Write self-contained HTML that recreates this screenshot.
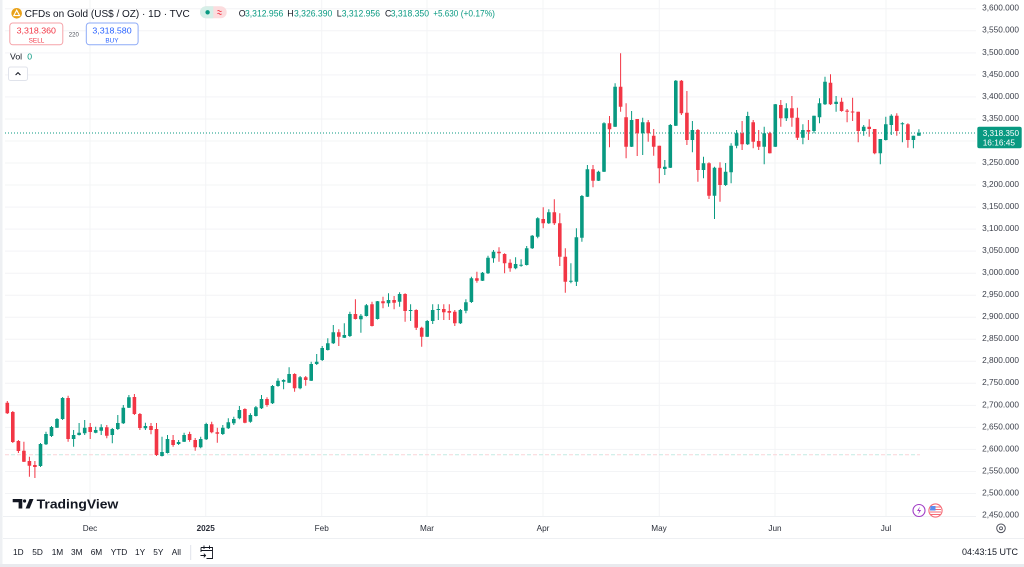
<!DOCTYPE html>
<html><head><meta charset="utf-8"><style>
html,body{margin:0;padding:0;background:#fff;width:1024px;height:567px;overflow:hidden}
svg{display:block}
text{font-family:"Liberation Sans",sans-serif}
</style></head><body>
<svg width="1024" height="567" viewBox="0 0 1024 567" xmlns="http://www.w3.org/2000/svg">
<rect x="0" y="0" width="1024" height="567" fill="#ffffff"/>
<!-- frame -->
<rect x="0" y="0" width="2.5" height="567" fill="#eef0f3"/>
<rect x="0" y="564" width="1024" height="3" fill="#e9eaee"/>
<!-- grid -->
<path d="M5 8.8H976M5 30.8H976M5 52.9H976M5 74.9H976M5 96.9H976M5 119H976M5 141H976M5 163H976M5 185H976M5 207.1H976M5 229.1H976M5 251.1H976M5 273.2H976M5 295.2H976M5 317.2H976M5 339.3H976M5 361.3H976M5 383.3H976M5 405.4H976M5 427.4H976M5 449.4H976M5 471.5H976M5 493.5H976" stroke="#f3f4f6" stroke-width="1" fill="none"/>
<path d="M90 0V516M205.7 0V516M321.7 0V516M427 0V516M543 0V516M659.3 0V516M775 0V516M886 0V516" stroke="#f3f4f6" stroke-width="1" fill="none"/>
<path d="M3 516.5H976M3 538.5H1024" stroke="#eef0f3" stroke-width="1" fill="none"/>
<!-- dashed low line -->
<path d="M5 454.7H920" stroke="#fbd3d7" stroke-width="1" stroke-dasharray="4 8" fill="none"/>
<path d="M11 454.7H920" stroke="#c4ebe3" stroke-width="1" stroke-dasharray="4 8" fill="none"/>
<!-- current price line -->
<path d="M5 133H977" stroke="#089981" stroke-width="1" stroke-dasharray="1 2" fill="none"/>

<!-- candles -->
<path fill="none" stroke="#089981" stroke-width="1" d="M40.5 443V467 M46 431.7V445 M51.5 426V437 M57 418V428 M62.6 397V420 M73.6 430V446.7 M79.1 423V435.5 M84.7 420V435 M95.7 426.7V433.3 M101.2 424.3V435 M112.3 428V443.3 M117.8 415V430 M123.3 405V424 M128.9 395V408 M145.4 422.7V430 M162 436.7V456.5 M167.5 435V453.5 M178.6 440V445 M184.1 432.7V442 M200.7 436.7V448.3 M206.2 422.7V440 M222.8 425V435 M228.3 418.3V429 M233.8 416.7V425 M239.4 406V419.3 M250.4 413.3V422.7 M255.9 406V416.5 M261.5 395V409 M272.5 385V404 M278 378.3V386.7 M283.6 379.3V389.3 M289.1 367.3V383 M300.1 376V389.3 M311.2 361.7V381 M316.7 354V365 M322.2 346V361 M327.8 338.3V350.5 M333.3 325V344 M344.3 323.3V338 M349.9 311.7V337 M360.9 314V332.7 M366.4 304V316.5 M377.5 301V319.5 M388.5 293.3V306.7 M399.6 292.3V306.7 M410.6 304.3V321 M427.2 320V337 M432.7 304.3V324 M438.3 304.3V320 M460.4 309V324 M465.9 299.3V313.3 M471.4 276.7V303 M482.5 272V281 M488 255.7V274 M493.5 250V262.7 M515.6 257.3V269.3 M521.1 259.3V266.7 M526.7 246V265.5 M532.2 235V249 M537.7 217.3V238.3 M548.8 209.3V224 M570.9 263.3V283.3 M576.4 228.3V286 M581.9 195V241.7 M587.4 165V197 M598.5 170.7V181 M604 122.3V172 M615.1 83.3V127 M631.6 111V147 M642.7 117.7V155 M664.8 160V175 M670.3 124V168 M675.8 80V126 M692.4 121V152.3 M703.5 156.7V178.3 M714.5 166.7V219 M725.6 163V186 M731.1 143.3V183.3 M736.6 130V148.3 M747.7 111.7V145 M764.2 126.7V164.3 M775.3 104V147 M786.3 103.3V121 M802.9 124.3V144.3 M814 115.7V133.3 M819.5 98.3V123.3 M825 76.7V105 M836.1 96V111.7 M863.7 125V135.7 M880.3 139V164.3 M885.8 116.7V140.5 M891.3 114.3V135 M902.4 122.3V142.3 M913.4 135.7V148.3 M918.9 129.3V135.7"/>
<path fill="none" stroke="#089981" stroke-width="3.6" d="M40.5 444V466 M46 434V444.3 M51.5 427V436 M57 419V427.7 M62.6 398V419 M73.6 435V439 M79.1 432.7V435 M84.7 427.7V433.3 M95.7 430V432.7 M101.2 427.3V430.7 M112.3 429V435 M117.8 423V429 M123.3 407.7V423.3 M128.9 397.3V407.7 M145.4 426V428.3 M162 452V456 M167.5 439V453 M178.6 442V444 M184.1 435V441.7 M200.7 439V447.3 M206.2 424V439.3 M222.8 427.7V434 M228.3 422.3V428.3 M233.8 419V423.3 M239.4 410V418.3 M250.4 415V421.7 M255.9 407.3V416 M261.5 399V408.3 M272.5 386V403.3 M278 380.7V386 M283.6 380V381.7 M289.1 374V382.7 M300.1 377.3V388.3 M311.2 364V380.7 M316.7 361.7V364 M322.2 348V360 M327.8 343.3V350 M333.3 332.3V343.3 M344.3 335V337.7 M349.9 314V336 M360.9 315.7V319.3 M366.4 305.3V316 M377.5 301.3V319 M388.5 300V303.3 M399.6 294V301.7 M410.6 310V311 M427.2 321V336.7 M432.7 310V321 M438.3 309V310 M460.4 310V323.3 M465.9 302.3V310.7 M471.4 278.3V302 M482.5 272.7V280.7 M488 257.7V273.3 M493.5 251.7V258.3 M515.6 264V268.3 M521.1 264.7V265.7 M526.7 248.3V265 M532.2 235.7V248.3 M537.7 218.3V236.7 M548.8 212.3V223.3 M570.9 280.7V281.7 M576.4 237.3V281.7 M581.9 196V237.7 M587.4 169.3V196.7 M598.5 171.7V180.7 M604 123.3V171.7 M615.1 86.7V126.7 M631.6 120V146.7 M642.7 122.3V133.3 M664.8 166.7V169 M670.3 125V167.7 M675.8 80.7V125.7 M692.4 130V140 M703.5 163.3V170 M714.5 167.7V195.7 M725.6 171.7V185 M731.1 145.7V172.3 M736.6 133.3V145.7 M747.7 116V144.3 M764.2 133.3V146.7 M775.3 104.3V146.7 M786.3 108.3V118.3 M802.9 130V137.7 M814 115.7V131 M819.5 103.3V117.3 M825 81.7V104.3 M836.1 101.7V104 M863.7 126.7V131 M880.3 139V153.3 M885.8 124.3V140 M891.3 115.7V125 M902.4 123.3V124.3 M913.4 135.7V140 M918.9 132.7V135.7"/>
<path fill="none" stroke="#f23645" stroke-width="1" d="M7.3 401V414 M12.8 411V443 M18.4 440V453 M23.9 441.7V462 M29.4 456.7V476.7 M34.9 461V478 M68.1 395.7V441.7 M90.2 423V439 M106.8 425V438.3 M134.4 394V415 M139.9 413V430 M151 423V434.3 M156.5 423V456 M173.1 435V446.7 M189.6 431.7V441.7 M195.2 438V450.7 M211.7 421.7V433.3 M217.3 427.7V442.7 M244.9 408.3V423.3 M267 397.3V406.7 M294.6 373.3V391.7 M305.7 376V385.7 M338.8 329.3V346 M355.4 299.3V319.5 M372 301.7V326.5 M383 296.7V308.3 M394.1 296V309.3 M405.1 293.3V321.7 M416.2 309.3V330 M421.7 326.7V346.7 M443.8 304.3V320 M449.3 304.3V320 M454.8 310V326 M476.9 271.7V282.7 M499 247.3V261.7 M504.6 253.3V273.3 M510.1 259.3V271.7 M543.2 207.3V228.3 M554.3 199.3V225 M559.8 213.3V266 M565.3 248.3V292.7 M593 165V187.3 M609.5 116V147.3 M620.6 53.3V111.7 M626.1 103.3V158.3 M637.2 119V156 M648.2 120V141.7 M653.7 129V155.7 M659.3 145.7V183.3 M681.4 80V115 M686.9 91V145 M697.9 129V181.7 M709 162.3V199 M720 162.3V201.7 M742.1 121V150 M753.2 120V148.3 M758.7 130V150 M769.8 131.7V153.5 M780.8 100V126.7 M791.9 96V126.7 M797.4 107.7V140 M808.4 120V140 M830.5 74.3V105 M841.6 97.7V111.7 M847.1 109V122.3 M852.6 97.7V121 M858.2 111.7V142.3 M869.2 119.3V136.7 M874.7 129V154.3 M896.8 113.3V135.7 M907.9 123.3V147.7"/>
<path fill="none" stroke="#f23645" stroke-width="3.6" d="M7.3 402.7V413.3 M12.8 412V442 M18.4 441V451 M23.9 450.7V461.7 M29.4 461V465.7 M34.9 465V467 M68.1 398V439 M90.2 427V432 M106.8 427.3V435.7 M134.4 397V414 M139.9 414V428 M151 426V430 M156.5 429V455 M173.1 440V445 M189.6 434V440 M195.2 440V447.3 M211.7 424.3V432.3 M217.3 432.3V433.7 M244.9 409V422.7 M267 399V405 M294.6 374V388.3 M305.7 377.3V380 M338.8 332.3V336.7 M355.4 314V319 M372 304.3V326 M383 301.3V303.3 M394.1 300V302.7 M405.1 294V311 M416.2 310V327.7 M421.7 327.7V336.7 M443.8 309V312.3 M449.3 311V312.7 M454.8 311.7V323.3 M476.9 278.3V280.7 M499 251.7V253.3 M504.6 254V263.3 M510.1 262.7V268.3 M543.2 219V223.3 M554.3 212.3V223.3 M559.8 223.3V256.7 M565.3 256.7V281.7 M593 169.3V180.7 M609.5 123.3V129.3 M620.6 86.7V106.7 M626.1 117.3V146.7 M637.2 119V133.3 M648.2 122.3V133.3 M653.7 135.7V146.7 M659.3 145.7V168.3 M681.4 80.7V113.3 M686.9 112.7V140 M697.9 130V170 M709 163.3V195.7 M720 167.7V185 M742.1 133.3V144.3 M753.2 122.3V141.7 M758.7 141V146.7 M769.8 133.3V153.3 M780.8 105V118.3 M791.9 108.3V117.7 M797.4 117.7V137.7 M808.4 130V131.7 M830.5 82.7V104.3 M841.6 101.7V111 M847.1 110.6V111.7 M852.6 111.5V112.5 M858.2 111.7V131 M869.2 126.7V129 M874.7 129V153.3 M896.8 115.7V131 M907.9 124.3V140"/>

<!-- price axis labels -->
<g font-size="8.3" fill="#3b3f4a" text-anchor="end">
<text x="1019" y="10.7">3,600.000</text>
<text x="1019" y="32.7">3,550.000</text>
<text x="1019" y="54.8">3,500.000</text>
<text x="1019" y="76.8">3,450.000</text>
<text x="1019" y="98.8">3,400.000</text>
<text x="1019" y="120.9">3,350.000</text>
<text x="1019" y="164.9">3,250.000</text>
<text x="1019" y="186.9">3,200.000</text>
<text x="1019" y="209.0">3,150.000</text>
<text x="1019" y="231.0">3,100.000</text>
<text x="1019" y="253.0">3,050.000</text>
<text x="1019" y="275.1">3,000.000</text>
<text x="1019" y="297.1">2,950.000</text>
<text x="1019" y="319.1">2,900.000</text>
<text x="1019" y="341.2">2,850.000</text>
<text x="1019" y="363.2">2,800.000</text>
<text x="1019" y="385.2">2,750.000</text>
<text x="1019" y="407.3">2,700.000</text>
<text x="1019" y="429.3">2,650.000</text>
<text x="1019" y="451.3">2,600.000</text>
<text x="1019" y="473.4">2,550.000</text>
<text x="1019" y="495.4">2,500.000</text>
<text x="1019" y="517.4">2,450.000</text>
</g>
<!-- current price box -->
<rect x="977.3" y="126.7" width="44.4" height="21.6" rx="2" fill="#089981"/>
<text x="982.7" y="136" font-size="8.3" fill="#ffffff" textLength="36.3" lengthAdjust="spacingAndGlyphs">3,318.350</text>
<text x="982.7" y="145.7" font-size="8.3" fill="#ffffff">16:16:45</text>

<!-- header -->
<circle cx="16.7" cy="13.3" r="5.3" fill="#e9a21a"/>
<path d="M16.7 10.2 L19.6 15.6 L13.8 15.6 Z" fill="none" stroke="#ffffff" stroke-width="1.1"/>
<text x="24.7" y="17" font-size="10.5" fill="#131722" textLength="165" lengthAdjust="spacingAndGlyphs">CFDs on Gold (US$ / OZ) · 1D · TVC</text>
<rect x="200" y="6.3" width="26.7" height="12" rx="6" fill="#fcdcde"/>
<path d="M206 6.3 H213.3 V18.3 H206 A6 6 0 0 1 206 6.3 Z" fill="#d6efe8"/>
<circle cx="207.6" cy="12.3" r="2.2" fill="#089981"/>
<path d="M217.5 11 q1 -1.2 2 0 t2 0 M217.5 13.8 q1 -1.2 2 0 t2 0" stroke="#f23645" stroke-width="0.9" fill="none"/>
<g font-size="8.8" fill="#089981">
<text x="238.7" y="16.7"><tspan fill="#131722">O</tspan></text>
<text x="245" y="16.7" textLength="38.3" lengthAdjust="spacingAndGlyphs">3,312.956</text>
<text x="287.3" y="16.7" fill="#131722">H</text>
<text x="294" y="16.7" textLength="38.3" lengthAdjust="spacingAndGlyphs">3,326.390</text>
<text x="336.7" y="16.7" fill="#131722">L</text>
<text x="341.7" y="16.7" textLength="38.3" lengthAdjust="spacingAndGlyphs">3,312.956</text>
<text x="385" y="16.7" fill="#131722">C</text>
<text x="390.7" y="16.7" textLength="38.3" lengthAdjust="spacingAndGlyphs">3,318.350</text>
<text x="433.3" y="16.7" textLength="25" lengthAdjust="spacingAndGlyphs">+5.630</text>
<text x="460.7" y="16.7" textLength="34.3" lengthAdjust="spacingAndGlyphs">(+0.17%)</text>
</g>
<!-- sell / buy -->
<rect x="9.8" y="23" width="53" height="21.8" rx="3" fill="#ffffff" stroke="#f5a3a9" stroke-width="1"/>
<text x="36.3" y="33.3" font-size="8.7" fill="#f23645" text-anchor="middle" textLength="39.3" lengthAdjust="spacingAndGlyphs">3,318.360</text>
<text x="36.5" y="42.5" font-size="6.4" fill="#f23645" text-anchor="middle">SELL</text>
<text x="73.8" y="36.5" font-size="6" fill="#4a4e59" text-anchor="middle">220</text>
<rect x="86.3" y="23" width="51.8" height="21.8" rx="3" fill="#ffffff" stroke="#8eabf7" stroke-width="1"/>
<text x="112" y="33.3" font-size="8.7" fill="#2962ff" text-anchor="middle" textLength="39.3" lengthAdjust="spacingAndGlyphs">3,318.580</text>
<text x="112" y="42.5" font-size="6.4" fill="#2962ff" text-anchor="middle">BUY</text>
<!-- vol -->
<text x="10" y="59.5" font-size="8.7" fill="#131722">Vol</text>
<text x="27.3" y="59.5" font-size="8.7" fill="#089981">0</text>
<rect x="8.5" y="67" width="19" height="13.5" rx="2" fill="#ffffff" stroke="#e0e3eb" stroke-width="1"/>
<path d="M15.6 75 L18 72.6 L20.4 75" stroke="#131722" stroke-width="1" fill="none"/>

<!-- TradingView logo -->
<path d="M12.7 499 H22.3 V508.5 H18.6 V502.3 H12.7 Z" fill="#131722"/>
<circle cx="24.6" cy="501" r="1.6" fill="#131722"/>
<path d="M29.5 499 H33.5 L29.6 508.5 H25.6 Z" fill="#131722"/>
<text x="36.7" y="508.5" font-size="13.3" font-weight="bold" fill="#131722" textLength="81.6" lengthAdjust="spacingAndGlyphs">TradingView</text>

<!-- bottom icons -->
<circle cx="919" cy="510.5" r="6" fill="#ffffff" stroke="#a23ec6" stroke-width="1.1"/>
<path d="M920 506.5 L917 511 H919.3 L918 514.5 L921.2 510 H918.9 Z" fill="#a23ec6"/>
<circle cx="935.5" cy="510.5" r="6.6" fill="#ffffff" stroke="#f56b77" stroke-width="1.1"/>
<path d="M930 507 H941 M930 509.5 H941 M930 512 H941 M930.5 514.5 H940.5" stroke="#f56b77" stroke-width="1.1"/>
<path d="M930.5 506 H935.5 V510.5 H930 Z" fill="#5b8def"/>

<!-- time axis labels -->
<g font-size="8.2" fill="#2a2e39" text-anchor="middle">
<text x="90" y="531">Dec</text>
<text x="205.7" y="531" font-weight="bold">2025</text>
<text x="321.7" y="531">Feb</text>
<text x="427" y="531">Mar</text>
<text x="543" y="531">Apr</text>
<text x="659" y="531">May</text>
<text x="775" y="531">Jun</text>
<text x="886" y="531">Jul</text>
</g>
<circle cx="1001" cy="528.3" r="4.3" fill="none" stroke="#50535e" stroke-width="1"/>
<circle cx="1001" cy="528.3" r="1.5" fill="none" stroke="#50535e" stroke-width="0.9"/>

<!-- toolbar -->
<g font-size="8.3" fill="#131722">
<text x="13" y="555">1D</text>
<text x="32.3" y="555">5D</text>
<text x="51.7" y="555">1M</text>
<text x="71" y="555">3M</text>
<text x="90.7" y="555">6M</text>
<text x="110.7" y="555">YTD</text>
<text x="135" y="555">1Y</text>
<text x="153.3" y="555">5Y</text>
<text x="171.7" y="555">All</text>
</g>
<path d="M190.7 545V560" stroke="#e0e3eb" stroke-width="1"/>
<path d="M201 547.5 H212.5 V558.5 H206.5 M201 547.5 V552 M201 550.5 H212.5 M204 545.5 V549 M209.5 545.5 V549 M200.5 555.5 H205.5 M203.8 553.7 L205.6 555.5 L203.8 557.3" stroke="#131722" stroke-width="0.9" fill="none"/>
<text x="1018" y="555" font-size="8.8" fill="#131722" text-anchor="end" textLength="56" lengthAdjust="spacingAndGlyphs">04:43:15 UTC</text>
</svg>
</body></html>
